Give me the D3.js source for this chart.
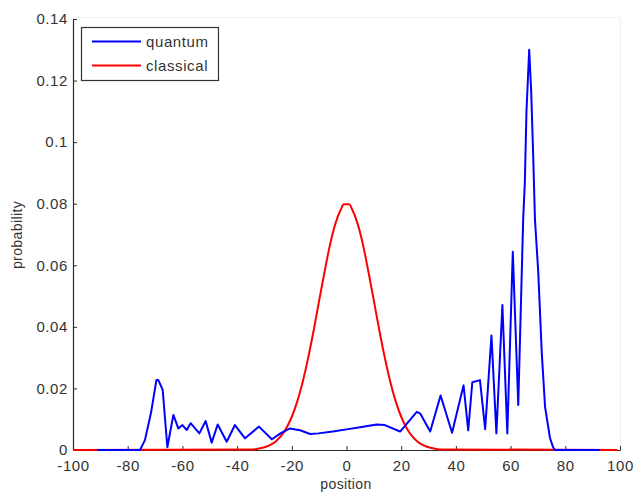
<!DOCTYPE html>
<html>
<head>
<meta charset="utf-8">
<script src="https://cdn.jsdelivr.net/npm/d3@7"></script>
<style>
  html, body { margin: 0; padding: 0; background: #ffffff; }
  svg { display: block; }
  text { font-family: "Liberation Sans", Arial, sans-serif; }
</style>
</head>
<body>
<svg id="chart" width="635" height="495"></svg>
<script>
// ---- data ----
const xTickValues = [-100, -80, -60, -40, -20, 0, 20, 40, 60, 80, 100];
const xTickLabels = ["-100", "-80", "-60", "-40", "-20", "0", "20", "40", "60", "80", "100"];
const yTickValues = [0, 0.02, 0.04, 0.06, 0.08, 0.1, 0.12, 0.14];
const yTickLabels = ["0", "0.02", "0.04", "0.06", "0.08", "0.1", "0.12", "0.14"];

const seriesNames = ["quantum", "classical"];

// quantum: position / probability
const quantumX = [-91, -75.5, -73.7, -71.5, -69.5, -68.8, -67.2, -65.5, -63.3, -61.5, -60.0, -58.4, -57.0,
  -53.8, -51.5, -49.3, -47.1, -43.8, -40.8, -37.1, -32.0, -27.3, -24, -20.7, -17, -13.3, -10.3, -5, 0, 5,
  11, 14, 19.6, 22, 25.7, 27, 30.6, 34.4, 38.6, 42.8, 44.5, 46, 48.8, 50.7, 53.0, 54.8, 57.0, 58.8,
  60.8, 62.8, 64.6, 65.2, 65.8, 66.8, 67.5, 68.2, 68.9, 70.1, 71.4, 72.6, 74.4, 75.5, 76.2, 92.6];
const quantumY = [0, 0, 0.0032, 0.012, 0.0227, 0.0227, 0.0195, 0.0009, 0.0114, 0.0070, 0.0081, 0.0065, 0.0087,
  0.0054, 0.0094, 0.0024, 0.0083, 0.0027, 0.0081, 0.0038, 0.0076, 0.0035, 0.0055, 0.0070, 0.0064, 0.0052, 0.0054, 0.0060, 0.0067, 0.0074,
  0.0083, 0.0081, 0.0060, 0.0085, 0.0124, 0.0118, 0.0060, 0.0177, 0.0056, 0.0210, 0.0064, 0.0220, 0.0227, 0.0068, 0.0372, 0.0054, 0.0471, 0.0054,
  0.0644, 0.0146, 0.0750, 0.0867, 0.1100, 0.1300, 0.1170, 0.0975, 0.0750, 0.0580, 0.0315, 0.0140, 0.0039, 0.0010, 0, 0];

// classical: position / probability
const classicalX = [-100, -34, -32, -30, -28, -26, -24, -22, -20, -18, -16, -14, -12, -10, -8, -6, -4, -2, -1, 1,
  2, 4, 6, 8, 10, 12, 14, 16, 18, 20, 22, 24, 26, 28, 30, 32, 34, 99];
const classicalY = [0, 0.0002, 0.0005, 0.0009, 0.0016, 0.0027, 0.0045, 0.0071, 0.0108, 0.0158, 0.0222, 0.0300, 0.0389, 0.0485, 0.0580, 0.0668, 0.0737, 0.0783, 0.0798, 0.0798,
  0.0783, 0.0737, 0.0668, 0.0580, 0.0485, 0.0389, 0.0300, 0.0222, 0.0158, 0.0108, 0.0071, 0.0045, 0.0027, 0.0016, 0.0009, 0.0005, 0.0002, 0];

const seriesColors = ["#0000ff", "#ff0000"];

// ---- chart ----
const svg = d3.select("#chart");
const x = d3.scaleLinear().domain([-100, 100]).range([73, 620]);
const y = d3.scaleLinear().domain([0, 0.14]).range([450, 19]);

const fontSize = "15px";
const axisColor = "#2b2b2b";

// faint top/right box
svg.append("line").attr("x1", x(-100)).attr("x2", x(100)).attr("y1", 17.5).attr("y2", 17.5)
  .attr("stroke", "#efefef").attr("stroke-width", 1);
svg.append("line").attr("x1", x(100) + 0.5).attr("x2", x(100) + 0.5).attr("y1", 17.5).attr("y2", y(0))
  .attr("stroke", "#efefef").attr("stroke-width", 1);

const lineQ = d3.line().x(d => x(d[0])).y(d => y(d[1]));
const lineC = d3.line().x(d => x(d[0])).y(d => y(d[1])).curve(d3.curveMonotoneX);

const quantum = quantumX.map((v, i) => [v, quantumY[i]]);
const classical = classicalX.map((v, i) => [v, classicalY[i]]);

// x axis
const gx = svg.append("g").attr("transform", `translate(0,${y(0)})`)
  .call(d3.axisBottom(x).tickValues(xTickValues).tickFormat((d, i) => xTickLabels[i])
    .tickSizeInner(-4).tickSizeOuter(0).tickPadding(10));
gx.select(".domain").attr("stroke", axisColor).attr("stroke-width", 1.2);
gx.selectAll(".tick line").attr("stroke", axisColor);
gx.selectAll(".tick text").attr("fill", "#333").style("font-size", fontSize)
  .style("font-family", '"Liberation Sans", Arial, sans-serif').style("letter-spacing", "0.6px");

// y axis
const gy = svg.append("g").attr("transform", `translate(${x(-100)},0)`)
  .call(d3.axisLeft(y).tickValues(yTickValues).tickFormat((d, i) => yTickLabels[i])
    .tickSizeInner(-4).tickSizeOuter(0).tickPadding(5));
gy.select(".domain").attr("stroke", axisColor).attr("stroke-width", 1.2);
gy.selectAll(".tick line").attr("stroke", axisColor);
gy.selectAll(".tick text").attr("fill", "#333").style("font-size", fontSize)
  .style("font-family", '"Liberation Sans", Arial, sans-serif').style("letter-spacing", "0.6px");

// curves
svg.append("path").datum(classical).attr("d", lineC)
  .attr("fill", "none").attr("stroke", seriesColors[1]).attr("stroke-width", 2).attr("stroke-linejoin", "round");
svg.append("path").datum(quantum).attr("d", lineQ)
  .attr("fill", "none").attr("stroke", seriesColors[0]).attr("stroke-width", 2).attr("stroke-linejoin", "round");

// axis labels
svg.append("text").attr("x", 346).attr("y", 489).attr("text-anchor", "middle")
  .attr("fill", "#333").style("font-size", "14px").style("letter-spacing", "0.4px").text("position");
svg.append("text").attr("transform", "translate(22,235) rotate(-90)").attr("text-anchor", "middle")
  .attr("fill", "#333").style("font-size", "14px").style("letter-spacing", "0.4px").text("probability");

// legend
const lg = svg.append("g");
lg.append("rect").attr("x", 81.5).attr("y", 27.5).attr("width", 137).attr("height", 53)
  .attr("fill", "#fff").attr("stroke", "#333").attr("stroke-width", 1.2);
seriesNames.forEach((name, i) => {
  const yy = 41.5 + i * 24;
  lg.append("line").attr("x1", 92).attr("x2", 141).attr("y1", yy).attr("y2", yy)
    .attr("stroke", seriesColors[i]).attr("stroke-width", 2);
  lg.append("text").attr("x", 146).attr("y", yy + 5.5).attr("fill", "#333")
    .style("font-size", fontSize).style("letter-spacing", "0.6px").text(name);
});
</script>
</body>
</html>
